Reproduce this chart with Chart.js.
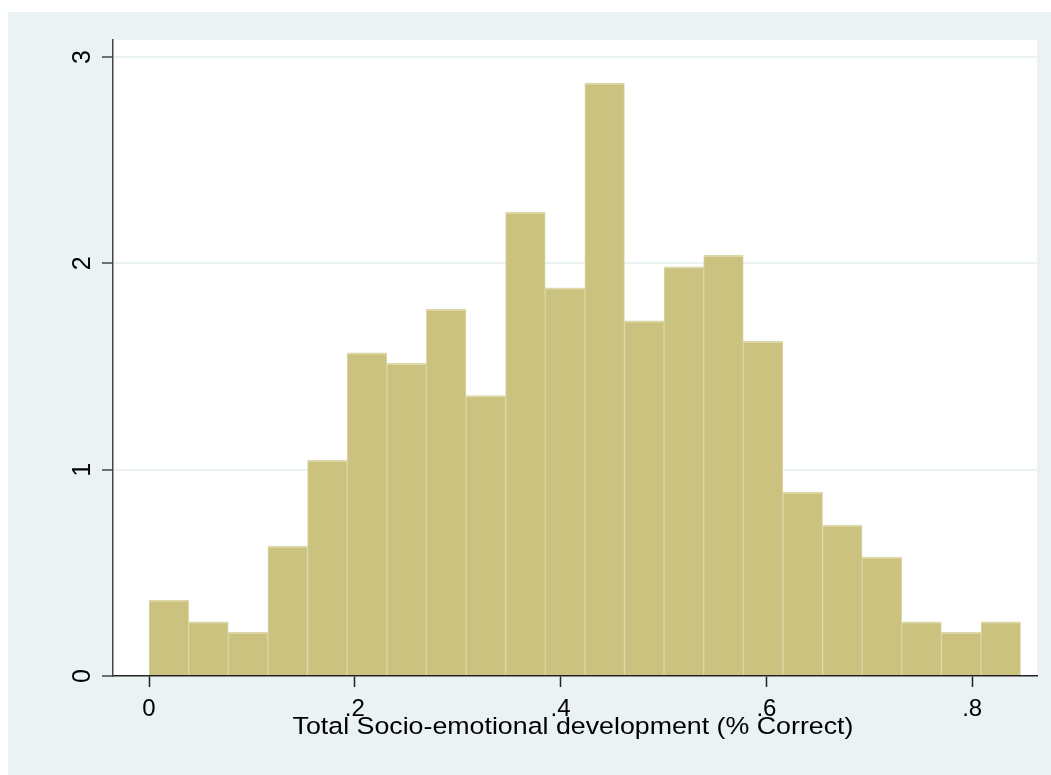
<!DOCTYPE html>
<html>
<head>
<meta charset="utf-8">
<script src="https://cdn.jsdelivr.net/npm/chart.js@4/dist/chart.umd.min.js"></script>
<style>
    html, body { margin: 0; padding: 0; background: #ffffff; }
    canvas { display: block; }
</style>
</head>
<body>
<canvas id="chartHist" width="1051" height="775"></canvas>
<script>
// Histogram bins (centers) and density heights
const binCenters = [0.0193, 0.0578, 0.0963, 0.1348, 0.1733, 0.2118, 0.2503, 0.2888, 0.3273, 0.3658, 0.4043,
    0.4428, 0.4813, 0.5198, 0.5583, 0.5968, 0.6353, 0.6738, 0.7123, 0.7508, 0.7893, 0.8278];
const densities = [0.368, 0.263, 0.212, 0.630, 1.045, 1.567, 1.516, 1.778, 1.359, 2.248, 1.882,
    2.874, 1.722, 1.984, 2.039, 1.622, 0.891, 0.731, 0.577, 0.263, 0.212, 0.263];

const xTicks = [0, 0.2, 0.4, 0.6, 0.8];
const xTickLabels = ["0", ".2", ".4", ".6", ".8"];
const yTicks = [0, 1, 2, 3];
const yTickLabels = ["0", "1", "2", "3"];
const xTitle = "Total Socio-emotional development (% Correct)";

const fontFamily = '"Liberation Sans", Arial, Helvetica, sans-serif';

// Stata-like background: white page, light blue-gray graph region, white plot region
const stataBackground = {
    id: "stataBackground",
    beforeDraw(chart) {
        const { ctx, chartArea: a, width, height } = chart;
        ctx.save();
        ctx.fillStyle = "#ffffff";
        ctx.fillRect(0, 0, width, height);
        ctx.fillStyle = "#eaf2f3";
        ctx.fillRect(8, 12, width - 8, height - 12);
        ctx.fillStyle = "#ffffff";
        ctx.fillRect(a.left, a.top, a.right - a.left, a.bottom - a.top);
        ctx.restore();
    }
};

// Axis title; the original export is a little wider than tall, so stretch it a bit
const xAxisTitle = {
    id: "xAxisTitle",
    afterDraw(chart) {
        const { ctx } = chart;
        ctx.save();
        ctx.translate(573, 734);
        ctx.scale(1.13, 1);
        ctx.font = "23.7px " + fontFamily;
        ctx.fillStyle = "#000000";
        ctx.textAlign = "center";
        ctx.textBaseline = "alphabetic";
        ctx.fillText(xTitle, 0, 0);
        ctx.restore();
    }
};

const chartHist = new Chart(document.getElementById("chartHist"), {
    type: "bar",
    data: {
        datasets: [{
            data: binCenters.map((x, i) => ({ x: x, y: densities[i] })),
            backgroundColor: "#cac27e",
            borderColor: "#dcd7a6",
            borderWidth: { top: 2, left: 1, right: 1, bottom: 0 },
            borderSkipped: false,
            barPercentage: 1,
            categoryPercentage: 1,
            grouped: false
        }]
    },
    options: {
        responsive: false,
        animation: false,
        devicePixelRatio: 1,
        layout: { padding: { top: 40, right: 14, left: 0, bottom: 0 } },
        plugins: {
            legend: { display: false },
            tooltip: { enabled: false }
        },
        scales: {
            x: {
                type: "linear",
                offset: false,
                min: -0.035,
                max: 0.863,
                afterBuildTicks: scale => { scale.ticks = xTicks.map(v => ({ value: v })); },
                afterFit: scale => { scale.height = 99; },
                border: { color: "#222222", width: 1.5 },
                grid: { offset: false, drawOnChartArea: false, drawTicks: true, tickLength: 11, tickColor: "#222222", tickWidth: 1.5 },
                ticks: {
                    callback: (value, index) => xTickLabels[index],
                    color: "#000000",
                    padding: 8,
                    maxRotation: 0,
                    font: { family: fontFamily, size: 24 }
                }
            },
            y: {
                min: 0,
                max: 3.083,
                afterBuildTicks: scale => { scale.ticks = yTicks.map(v => ({ value: v })); },
                afterFit: scale => { scale.width = 113; },
                border: { color: "#444444", width: 1.5 },
                grid: {
                    color: ctx => ctx.tick && ctx.tick.value === 0 ? "rgba(0,0,0,0)" : "#eaf2f3",
                    lineWidth: 2,
                    drawTicks: true,
                    tickLength: 11,
                    tickColor: "#444444",
                    tickWidth: 1.5
                },
                ticks: {
                    callback: (value, index) => yTickLabels[index],
                    color: "#000000",
                    minRotation: 90,
                    maxRotation: 90,
                    crossAlign: "center",
                    padding: 12,
                    font: { family: fontFamily, size: 25 }
                }
            }
        }
    },
    plugins: [stataBackground, xAxisTitle]
});
</script>
</body>
</html>
